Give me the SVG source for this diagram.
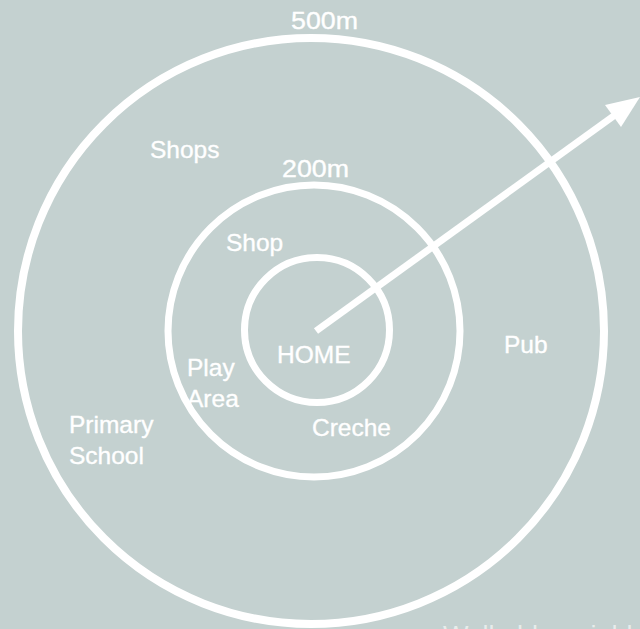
<svg xmlns="http://www.w3.org/2000/svg" width="640" height="629" viewBox="0 0 640 629">
  <style>
    .ring { fill: none; stroke: #ffffff; }
    .lbl { font-family: "Liberation Sans", Arial, sans-serif; font-size: 24.5px; fill: #ffffff; stroke: #ffffff; stroke-width: 0.35px; }
    .cap { font-family: "Liberation Sans", Arial, sans-serif; font-size: 27px; fill: #ffffff; fill-opacity: 0.6; }
  </style>
  <rect x="0" y="0" width="640" height="629" fill="#c4d1d0"/>

  <g id="ring-500m">
    <circle class="ring" cx="311" cy="331" r="293" stroke-width="8"/>
    <text class="lbl" x="291" y="29" textLength="67" lengthAdjust="spacingAndGlyphs">500m</text>
  </g>
  <g id="ring-200m">
    <circle class="ring" cx="314" cy="331" r="146" stroke-width="7"/>
    <text class="lbl" x="282" y="177" textLength="67" lengthAdjust="spacingAndGlyphs">200m</text>
  </g>
  <g id="ring-home">
    <circle class="ring" cx="317" cy="330" r="72.5" stroke-width="7"/>
  </g>

  <g id="connectors">
    <line x1="316" y1="331" x2="615" y2="115" stroke="#ffffff" stroke-width="7"/>
    <polygon points="640,97 605,105 621,127" fill="#ffffff"/>
  </g>

  <g id="home"><text class="lbl" x="277" y="363">HOME</text></g>
  <g id="shops"><text class="lbl" x="150" y="158">Shops</text></g>
  <g id="shop"><text class="lbl" x="226" y="251">Shop</text></g>
  <g id="play-area">
    <text class="lbl" x="187" y="376">Play</text>
    <text class="lbl" x="187" y="407">Area</text>
  </g>
  <g id="primary-school">
    <text class="lbl" x="69" y="433">Primary</text>
    <text class="lbl" x="69" y="464">School</text>
  </g>
  <g id="creche"><text class="lbl" x="312" y="436">Creche</text></g>
  <g id="pub"><text class="lbl" x="504" y="353">Pub</text></g>

  <g id="caption"><text class="cap" x="443" y="645">Walkable neighbourhood</text></g>
</svg>
